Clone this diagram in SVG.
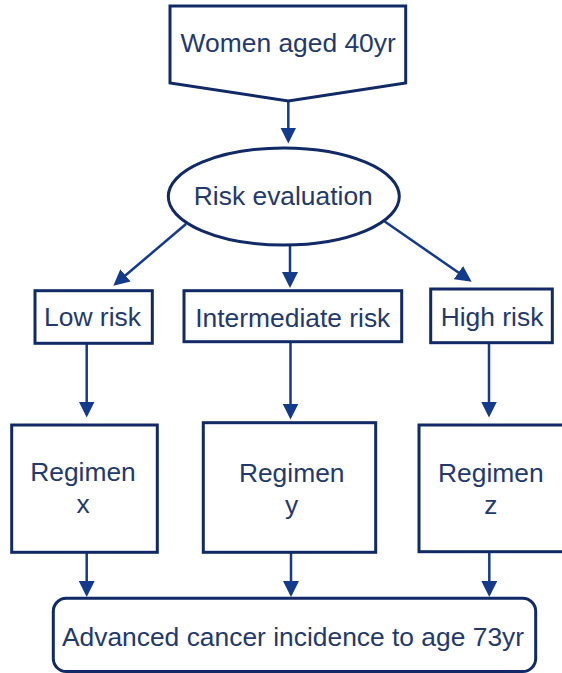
<svg xmlns="http://www.w3.org/2000/svg" width="562" height="673" viewBox="0 0 562 673">
  <style>
    .box { fill: #ffffff; stroke: #112a66; stroke-width: 3; }
    .lbl { font-family: "Liberation Sans", Arial, sans-serif; font-size: 26.4px; fill: #24396b; text-anchor: middle; }
    .conn { fill: none; stroke: #143a8c; stroke-width: 2.5; marker-end: url(#arrow); }
  </style>
  <defs>
    <marker id="arrow" markerUnits="userSpaceOnUse" markerWidth="16" markerHeight="16" refX="13" refY="8" orient="auto">
      <path d="M0,0 L16,8 L0,16 z" fill="#143a8c"/>
    </marker>
  </defs>

  <rect width="562" height="673" fill="#ffffff"/>

  <!-- connectors -->
  <g id="connectors">
    <path class="conn" d="M288.3,101 L288.3,140.5"/>
    <path class="conn" d="M186,224 L115.6,283.8"/>
    <path class="conn" d="M290,245 L290,285"/>
    <path class="conn" d="M384,221 L469.2,280"/>
    <path class="conn" d="M86.7,343 L86.7,414.5"/>
    <path class="conn" d="M290.5,342 L290.5,416.5"/>
    <path class="conn" d="M489,343 L489,414.5"/>
    <path class="conn" d="M86.7,552 L86.7,594"/>
    <path class="conn" d="M291,552 L291,594"/>
    <path class="conn" d="M489.3,552 L489.3,594"/>
  </g>

  <!-- start: off-page style pentagon -->
  <g id="start">
    <path class="box" d="M170,6 L405.7,6 L405.7,83 L288.3,101 L170,83 z"/>
    <text class="lbl" x="288.2" y="52">Women aged 40yr</text>
  </g>

  <g id="risk-evaluation">
    <ellipse class="box" cx="283.8" cy="196.5" rx="115.5" ry="48.5"/>
    <text class="lbl" x="283.3" y="205">Risk evaluation</text>
  </g>

  <g id="low-risk">
    <rect class="box" x="35" y="290.7" width="117.3" height="52.6"/>
    <text class="lbl" x="92.5" y="326">Low risk</text>
  </g>

  <g id="intermediate-risk">
    <rect class="box" x="184" y="290.7" width="217.7" height="51"/>
    <text class="lbl" x="292.8" y="327">Intermediate risk</text>
  </g>

  <g id="high-risk">
    <rect class="box" x="430.7" y="289" width="121.6" height="53.7"/>
    <text class="lbl" x="492" y="326">High risk</text>
  </g>

  <g id="regimen-x">
    <rect class="box" x="11.7" y="425" width="145.6" height="127.3"/>
    <text class="lbl" x="83" y="481">Regimen</text>
    <text class="lbl" x="83" y="513">x</text>
  </g>

  <g id="regimen-y">
    <rect class="box" x="203.3" y="422.7" width="172.4" height="129.6"/>
    <text class="lbl" x="291.7" y="481.5">Regimen</text>
    <text class="lbl" x="291.7" y="513.5">y</text>
  </g>

  <g id="regimen-z">
    <rect class="box" x="419" y="425" width="148" height="126.7"/>
    <text class="lbl" x="490.8" y="481.5">Regimen</text>
    <text class="lbl" x="490.8" y="513.5">z</text>
  </g>

  <g id="outcome">
    <rect class="box" x="53.3" y="598.3" width="482.4" height="73.2" rx="13" ry="13"/>
    <text class="lbl" x="293" y="646">Advanced cancer incidence to age 73yr</text>
  </g>
</svg>
